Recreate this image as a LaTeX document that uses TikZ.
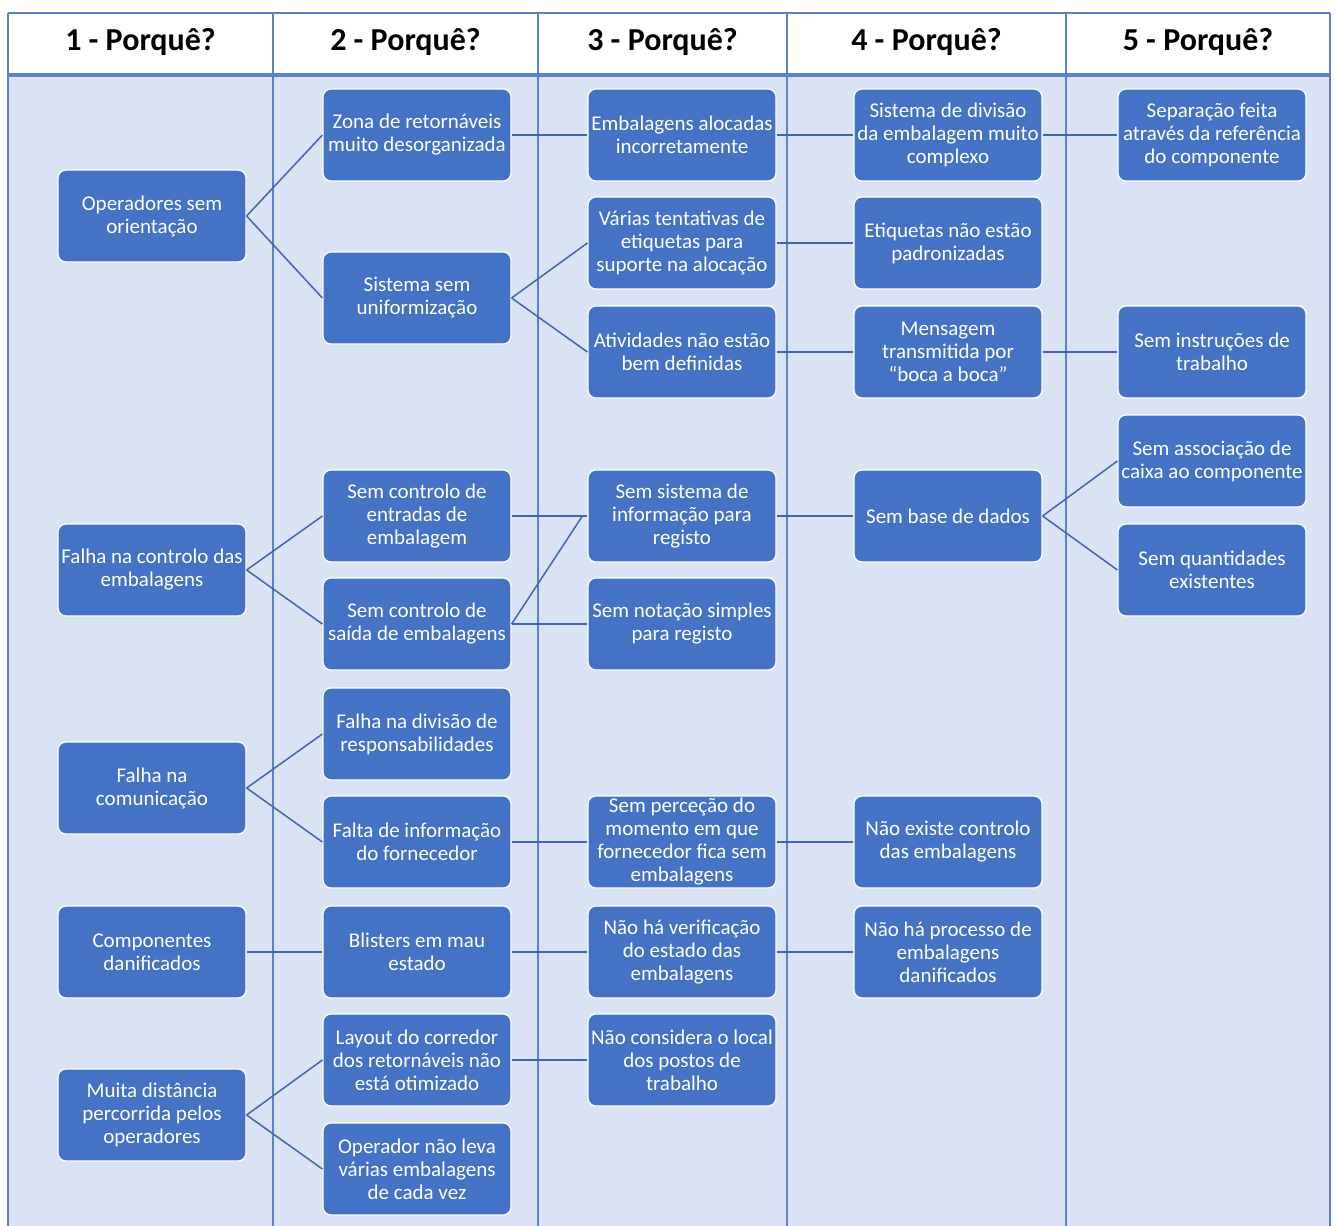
\documentclass[tikz,border=0pt]{standalone}
\usepackage{fontspec}
\setmainfont{Carlito}
\begin{document}
\begin{tikzpicture}[x=1pt,y=-1pt,
  cause/.style={rounded corners=8pt, fill=boxblue, draw=white, line width=1.2pt,
    minimum width=188pt, minimum height=92pt, inner sep=0pt, align=center,
    text=white, font=\fontsize{21}{23}\selectfont},
  link/.style={draw=linkblue, line width=1.5pt},
  grid/.style={draw=gridblue, line width=1.8pt},
  head/.style={font=\fontsize{32}{36}\selectfont\bfseries, text=black}]
\definecolor{boxblue}{HTML}{4472C4}
\definecolor{linkblue}{HTML}{4266AE}
\definecolor{gridblue}{HTML}{5A82CA}
\definecolor{bodyblue}{HTML}{DAE3F3}

\useasboundingbox (0,0) rectangle (1336,1226);
\fill[white] (0,0) rectangle (1336,1226);

% table body and header
\fill[bodyblue] (8,75) rectangle (1330,1226);
\foreach \x in {8,273,538,787,1066,1330} \draw[grid] (\x,13) -- (\x,1226);
\draw[grid] (8,13) -- (1330,13);
\draw[grid, line width=3.5pt] (8,75) -- (1330,75);

\node[head] (h1) at (140.5,42) {1 - Porquê?};
\node[head] (h2) at (405.5,42) {2 - Porquê?};
\node[head] (h3) at (662.5,42) {3 - Porquê?};
\node[head] (h4) at (926.5,42) {4 - Porquê?};
\node[head] (h5) at (1198,42) {5 - Porquê?};

% column 1
\node[cause] (a1) at (152,216) {Operadores sem\\orientação};
\node[cause] (a2) at (152,570) {Falha na controlo das\\embalagens};
\node[cause] (a3) at (152,788) {Falha na\\comunicação};
\node[cause] (a4) at (152,952) {Componentes\\danificados};
\node[cause] (a5) at (152,1115) {Muita distância\\percorrida pelos\\operadores};

% column 2
\node[cause] (b1) at (417,135) {Zona de retornáveis\\muito desorganizada};
\node[cause] (b2) at (417,298) {Sistema sem\\uniformização};
\node[cause] (b3) at (417,516) {Sem controlo de\\entradas de\\embalagem};
\node[cause] (b4) at (417,624) {Sem controlo de\\saída de embalagens};
\node[cause] (b5) at (417,734) {Falha na divisão de\\responsabilidades};
\node[cause] (b6) at (417,842) {Falta de informação\\do fornecedor};
\node[cause] (b7) at (417,952) {Blisters em mau\\estado};
\node[cause] (b8) at (417,1060) {Layout do corredor\\dos retornáveis não\\está otimizado};
\node[cause] (b9) at (417,1169) {Operador não leva\\várias embalagens\\de cada vez};

% column 3
\node[cause] (c1) at (682,135) {Embalagens alocadas\\incorretamente};
\node[cause] (c2) at (682,243) {Várias tentativas de\\etiquetas para\\suporte na alocação};
\node[cause] (c3) at (682,352) {Atividades não estão\\bem definidas};
\node[cause] (c4) at (682,516) {Sem sistema de\\informação para\\registo};
\node[cause] (c5) at (682,624) {Sem notação simples\\para registo};
\node[cause] (c6) at (682,842) {Sem perceção do\\momento em que\\fornecedor fica sem\\embalagens};
\node[cause] (c7) at (682,952) {Não há verificação\\do estado das\\embalagens};
\node[cause] (c8) at (682,1060) {Não considera o local\\dos postos de\\trabalho};

% column 4
\node[cause] (d1) at (948,135) {Sistema de divisão\\da embalagem muito\\complexo};
\node[cause] (d2) at (948,243) {Etiquetas não estão\\padronizadas};
\node[cause] (d3) at (948,352) {Mensagem\\transmitida por\\“boca a boca”};
\node[cause] (d4) at (948,516) {Sem base de dados};
\node[cause] (d5) at (948,842) {Não existe controlo\\das embalagens};
\node[cause] (d6) at (948,952) {Não há processo de\\embalagens\\danificados};

% column 5
\node[cause] (e1) at (1212,135) {Separação feita\\através da referência\\do componente};
\node[cause] (e2) at (1212,352) {Sem instruções de\\trabalho};
\node[cause] (e3) at (1212,461) {Sem associação de\\caixa ao componente};
\node[cause] (e4) at (1212,570) {Sem quantidades\\existentes};

% connectors
\draw[link] (a1.east) -- (b1.west);
\draw[link] (a1.east) -- (b2.west);
\draw[link] (b1.east) -- (c1.west);
\draw[link] (c1.east) -- (d1.west);
\draw[link] (d1.east) -- (e1.west);
\draw[link] (b2.east) -- (c2.west);
\draw[link] (b2.east) -- (c3.west);
\draw[link] (c2.east) -- (d2.west);
\draw[link] (c3.east) -- (d3.west);
\draw[link] (d3.east) -- (e2.west);
\draw[link] (a2.east) -- (b3.west);
\draw[link] (a2.east) -- (b4.west);
\draw[link] (b3.east) -- (c4.west);
\draw[link] (b4.east) -- ([xshift=-5pt]c4.west);
\draw[link] (b4.east) -- (c5.west);
\draw[link] (c4.east) -- (d4.west);
\draw[link] (d4.east) -- (e3.west);
\draw[link] (d4.east) -- (e4.west);
\draw[link] (a3.east) -- (b5.west);
\draw[link] (a3.east) -- (b6.west);
\draw[link] (b6.east) -- (c6.west);
\draw[link] (c6.east) -- (d5.west);
\draw[link] (a4.east) -- (b7.west);
\draw[link] (b7.east) -- (c7.west);
\draw[link] (c7.east) -- (d6.west);
\draw[link] (a5.east) -- (b8.west);
\draw[link] (a5.east) -- (b9.west);
\draw[link] (b8.east) -- (c8.west);
\end{tikzpicture}
\end{document}
